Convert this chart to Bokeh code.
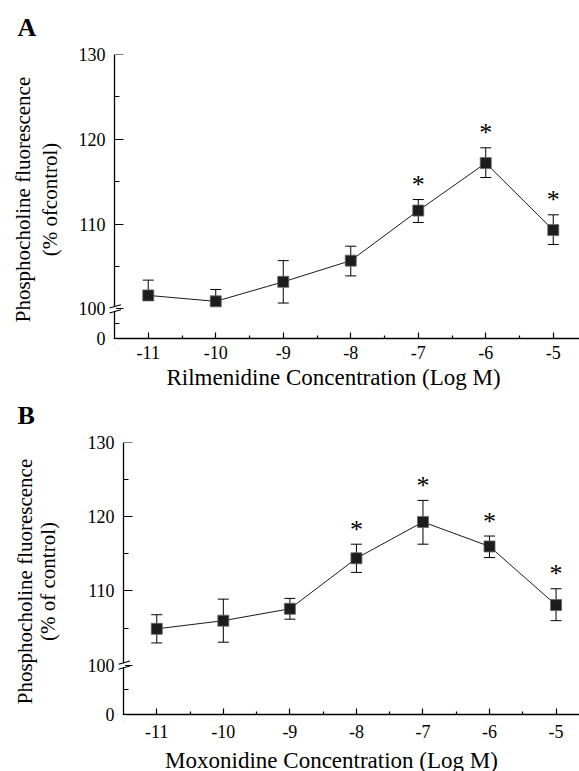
import math
from bokeh.plotting import figure
from bokeh.layouts import column
from bokeh.models import (ColumnDataSource, Whisker, TeeHead, FixedTicker,
                          Arrow, PolyAnnotation, Range1d, LinearAxis)
from bokeh.core.properties import value
from bokeh.embed import file_html
from bokeh.resources import INLINE

# ---------------- data ----------------
conc = [-11, -10, -9, -8, -7, -6, -5]
conc_labels = ["-11", "-10", "-9", "-8", "-7", "-6", "-5"]
y_values = [0, 100, 110, 120, 130]
y_labels = ["0", "100", "110", "120", "130"]

# Panel A: Rilmenidine
ril_mean = [101.6, 100.9, 103.2, 105.7, 111.6, 117.2, 109.3]
ril_upper = [103.4, 102.3, 105.7, 107.4, 112.9, 119.0, 111.1]
ril_lower = [None, None, 100.7, 103.9, 110.2, 115.5, 107.6]
ril_sig = [False, False, False, False, True, True, True]

# Panel B: Moxonidine
mox_mean = [104.9, 106.0, 107.6, 114.4, 119.3, 116.0, 108.1]
mox_upper = [106.8, 108.9, 109.0, 116.3, 122.2, 117.4, 110.3]
mox_lower = [103.0, 103.1, 106.2, 112.5, 116.3, 114.5, 106.0]
mox_sig = [False, False, False, True, True, True, True]

titles_x = ["Rilmenidine Concentration (Log M)", "Moxonidine Concentration (Log M)"]
title_y1 = "Phosphocholine fluorescence"
titles_y2 = ["(% ofcontrol)", "(% of control)"]
letters = ["A", "B"]

FONT = "Liberation Serif"
W = 579
PAD = 6  # frame pixels kept left of / below the drawn axes so the break marks show


def no_align(fig):
    try:
        fig.frame_align = False
    except Exception:
        pass


def strip(height, items):
    """A text-only strip (panel letters and x titles); its frame is the whole canvas."""
    h = figure(width=W, height=height, x_range=Range1d(0, W), y_range=Range1d(0, height),
               x_axis_location=None, y_axis_location=None, min_border=0,
               output_backend="svg", toolbar_location=None, tools="")
    no_align(h)
    h.grid.visible = False
    h.outline_line_color = None
    for (txt, x, y, size, style, align) in items:
        h.text(x=[x], y=[y], text=[txt], text_font=value(FONT), text_font_size=size,
               text_font_style=style, text_align=align, text_baseline="middle",
               text_color="black")
    return h


def style_labels_only(ax):
    ax.axis_line_color = None
    ax.major_tick_line_color = None
    ax.minor_tick_line_color = None
    ax.major_tick_in = 0
    ax.major_tick_out = 0
    ax.minor_tick_in = 0
    ax.minor_tick_out = 0
    ax.major_label_text_font = FONT
    ax.major_label_text_font_size = "18px"
    ax.major_label_text_color = "black"
    ax.axis_label_text_font = FONT
    ax.axis_label_text_font_style = "normal"
    ax.axis_label_text_color = "black"


def line_axis(ticker, loc, tick_in, minor_in):
    return LinearAxis(ticker=ticker, fixed_location=loc,
                      axis_line_color="black", axis_line_width=1.3,
                      major_tick_line_color="black", major_tick_line_width=1.2,
                      minor_tick_line_color="black", minor_tick_line_width=1.2,
                      major_tick_in=tick_in, major_tick_out=0,
                      minor_tick_in=minor_in, minor_tick_out=0,
                      major_label_text_color=None, major_label_standoff=0)


def make_panel(y_title_2, mean, upper, lower, sig, left, height, top, bottom,
               ppx, zero_gap, xlab_standoff, als_y2, als_y1):
    y0 = 100 - zero_gap              # display position of the "0" tick below the break
    frame_w = W - left
    frame_h = height - top - bottom
    x_start = -11.5 - PAD / ppx
    x_end = x_start + frame_w / ppx
    y_start = y0 - PAD * (130 - y0) / (frame_h - PAD)

    def disp(v):
        return v if v >= 100 else y0

    p = figure(width=W, height=height,
               min_border_left=left, min_border_right=0,
               min_border_top=top, min_border_bottom=bottom,
               x_range=Range1d(x_start, x_end), y_range=Range1d(y_start, 130),
               output_backend="svg", toolbar_location=None, tools="")
    no_align(p)
    p.grid.visible = False
    p.outline_line_color = None
    p.background_fill_color = "white"
    p.border_fill_color = "white"

    xt = FixedTicker(ticks=conc, minor_ticks=[c + 0.5 for c in conc[:-1]])
    yt = FixedTicker(ticks=[disp(v) for v in y_values],
                     minor_ticks=[(y0 + 100) / 2, 105, 115, 125])

    # tick-label axes (in the side panels)
    xa = p.xaxis[0]
    style_labels_only(xa)
    xa.ticker = xt
    xa.major_label_overrides = {c: lab for c, lab in zip(conc, conc_labels)}
    xa.major_label_standoff = xlab_standoff

    ya = p.yaxis[0]
    style_labels_only(ya)
    ya.ticker = yt
    ya.major_label_overrides = {disp(v): lab for v, lab in zip(y_values, y_labels)}
    ya.major_label_standoff = 3
    ya.axis_label = y_title_2
    ya.axis_label_text_font_size = "21px"
    ya.axis_label_standoff = als_y2

    extra = LinearAxis(ticker=FixedTicker(ticks=[]), axis_label=title_y1)
    style_labels_only(extra)
    extra.major_label_standoff = 0
    extra.axis_label_text_font_size = "21px"
    extra.axis_label_standoff = als_y1
    p.add_layout(extra, "left")

    # axis lines and inward ticks, fixed at the data corner (-11.5, 0)
    p.add_layout(line_axis(yt, -11.5, 9, 5), "left")
    p.add_layout(line_axis(xt, y0, 6, 3), "below")

    # error bars
    src = ColumnDataSource(dict(x=conc, y=mean, up=upper))
    p.add_layout(Whisker(source=src, base="x", upper="up", lower="y", dimension="height",
                         line_color="black", line_width=1,
                         upper_head=TeeHead(size=11, line_color="black", line_width=1),
                         lower_head=None))
    idx = [i for i, l in enumerate(lower) if l is not None]
    src_lo = ColumnDataSource(dict(x=[conc[i] for i in idx], y=[mean[i] for i in idx],
                                   lo=[lower[i] for i in idx]))
    p.add_layout(Whisker(source=src_lo, base="x", upper="y", lower="lo", dimension="height",
                         line_color="black", line_width=1,
                         lower_head=TeeHead(size=11, line_color="black", line_width=1),
                         upper_head=None))

    p.line("x", "y", source=src, line_color="#1a1a1a", line_width=1)
    p.scatter("x", "y", source=src, marker="square", size=11,
              fill_color="#1c1c1c", line_color="#666666", line_width=0.8)

    # significance asterisks
    sx = [c for c, s in zip(conc, sig) if s]
    sy = [u for u, s in zip(upper, sig) if s]
    p.text(x=sx, y=sy, text=["*"] * len(sx), text_font=value(FONT),
           text_font_size="26px", text_align="center", text_baseline="alphabetic",
           y_offset=-15, text_color="black")

    def mask(xs, ys):
        p.add_layout(PolyAnnotation(xs=xs, ys=ys, xs_units="screen", ys_units="screen",
                                    fill_color="white", fill_alpha=1, line_color=None,
                                    level="overlay"))

    # hide the axis-line stubs outside the axes corner
    mask([-2, PAD - 0.8, PAD - 0.8, -2], [PAD - 3, PAD - 3, PAD + 3, PAD + 3])
    mask([PAD - 3, PAD + 3, PAD + 3, PAD - 3], [-2, -2, PAD - 0.8, PAD - 0.8])

    # axis break marks
    ppu = (frame_h - PAD) / (130 - y0)
    yb = PAD + (100 - y0) * ppu
    mask([PAD - 1.6, PAD + 1.6, PAD + 1.6, PAD - 1.6],
         [yb - 2.4, yb - 1.6, yb + 2.3, yb + 1.5])
    for dy in (1.0, -4.0):
        p.add_layout(Arrow(x_start=PAD - 5, y_start=yb + dy, x_end=PAD + 6.5,
                           y_end=yb + dy + 3.2, start_units="screen", end_units="screen",
                           end=None, start=None, line_color="black", line_width=1.1,
                           level="overlay"))
    return p


hA = strip(46, [(letters[0], 17, 19.5, "26px", "bold", "left")])
pA = make_panel(titles_y2[0], ril_mean, ril_upper, ril_lower, ril_sig,
                left=108, height=319, top=8, bottom=21, ppx=67.5,
                zero_gap=3.48, xlab_standoff=1, als_y2=14, als_y1=0)
hB = strip(67, [(titles_x[0], 333, 55.5, "23px", "normal", "center"),
                (letters[1], 17, 17, "26px", "bold", "left")])
pB = make_panel(titles_y2[1], mox_mean, mox_upper, mox_lower, mox_sig,
                left=117, height=310, top=10, bottom=22, ppx=66.55,
                zero_gap=6.64, xlab_standoff=4, als_y2=25, als_y1=-4)
fB = strip(29, [(titles_x[1], 331, 11.5, "23px", "normal", "center")])

layout = column(hA, pA, hB, pB, fB)
open("out.html", "w").write(file_html(layout, INLINE))
